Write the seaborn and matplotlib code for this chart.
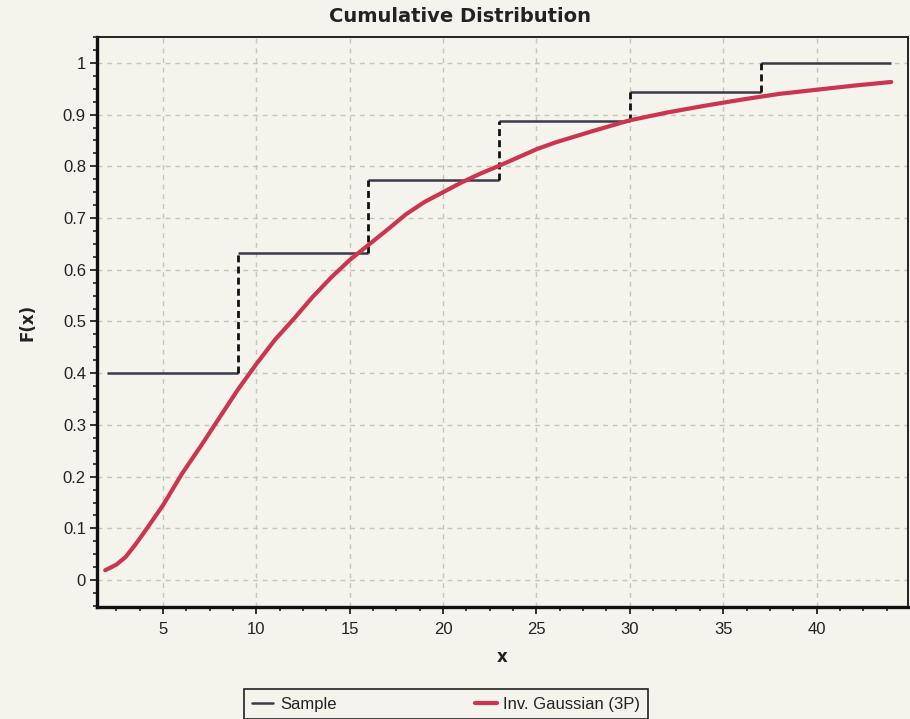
import numpy as np
import pandas as pd
import matplotlib
matplotlib.use("Agg")
import matplotlib.pyplot as plt
import seaborn as sns
from matplotlib.ticker import MultipleLocator
from matplotlib.lines import Line2D
from matplotlib import font_manager

# ---- data ----
step_x = [2, 9, 16, 23, 30, 37, 44]
step_f = [0.4, 0.633, 0.774, 0.887, 0.944, 1.0]

curve_x = [1.9, 2.5, 3, 3.5, 4, 5, 6, 7, 8, 9, 10, 11, 12, 13, 14, 15, 16, 17,
           18, 19, 20, 21, 22, 23, 24, 25, 26, 28, 30, 32, 34, 36, 38, 40, 42, 44]
curve_f = [0.019, 0.03, 0.045, 0.068, 0.093, 0.145, 0.205, 0.258, 0.313, 0.368,
           0.418, 0.465, 0.505, 0.547, 0.585, 0.619, 0.648, 0.677, 0.707, 0.731,
           0.750, 0.769, 0.786, 0.801, 0.817, 0.833, 0.846, 0.868, 0.889, 0.904,
           0.917, 0.929, 0.94, 0.948, 0.956, 0.963]

title = "Cumulative Distribution"
xlabel = "x"
ylabel = "F(x)"
legend_labels = ["Sample", "Inv. Gaussian (3P)"]
xticks = [5, 10, 15, 20, 25, 30, 35, 40]
yticks = [0, 0.1, 0.2, 0.3, 0.4, 0.5, 0.6, 0.7, 0.8, 0.9, 1]

# ---- style ----
sns.set_theme(style="white")
avail = {f.name for f in font_manager.fontManager.ttflist}
narrow = "Liberation Sans Narrow" if "Liberation Sans Narrow" in avail else "Liberation Sans"
plt.rcParams["font.family"] = [narrow, "DejaVu Sans"]

bg = "#f4f3ec"
fig = plt.figure(figsize=(9.1, 7.19), dpi=100, facecolor=bg)
ax = fig.add_axes([97 / 910, 1 - 607 / 719, (908 - 97) / 910, (607 - 37) / 719])
ax.set_facecolor(bg)

# grid
ax.set_xticks(xticks)
ax.set_yticks(yticks)
ax.set_yticklabels([("%g" % v) for v in yticks])
ax.xaxis.set_minor_locator(MultipleLocator(1.25))
ax.yaxis.set_minor_locator(MultipleLocator(0.025))
ax.grid(True, which="major", color="#c6c5b8", linestyle=(0, (3.5, 3.5)), linewidth=1.0)

# sample step function
df_curve = pd.DataFrame({"x": curve_x, "F": curve_f})
ax.hlines(step_f, step_x[:-1], step_x[1:], colors="#3b3a48", linewidth=1.8, zorder=3)
ax.vlines(step_x[1:-1], step_f[:-1], step_f[1:], colors="#111111",
          linewidth=2.0, linestyles=(0, (2.5, 1.5)), zorder=3)

# fitted curve
sns.lineplot(data=df_curve, x="x", y="F", ax=ax, color="#cc3550", linewidth=3.0,
             zorder=4, legend=False)

ax.set_xlim(1.46, 44.9)
ax.set_ylim(-0.052, 1.05)

for side in ["left", "bottom"]:
    ax.spines[side].set_linewidth(2.4)
    ax.spines[side].set_color("#111111")
for side in ["top", "right"]:
    ax.spines[side].set_linewidth(1.4)
    ax.spines[side].set_color("#222222")

ax.tick_params(axis="both", which="major", direction="out", length=5, width=1.3,
               color="#222222", labelsize=12, labelcolor="#222222", pad=3)
ax.tick_params(axis="both", which="minor", direction="out", length=3, width=1.2,
               color="#222222")
ax.tick_params(axis="x", which="major", pad=6)
ax.tick_params(axis="both", which="both", left=True, bottom=True)

fig.text(0.505, 1 - 17 / 719, title, ha="center", va="center", fontsize=14,
         fontweight="bold", color="#222222", family=["DejaVu Sans"])
ax.set_xlabel(xlabel, fontsize=12, fontweight="bold", color="#222222", labelpad=8,
              family=["DejaVu Sans"])
ax.set_ylabel(ylabel, fontsize=12, fontweight="bold", color="#222222", labelpad=19,
              family=["DejaVu Sans"])

handles = [Line2D([], [], color="#3b3a48", linewidth=1.8),
           Line2D([], [], color="#cc3550", linewidth=3.0)]
leg = fig.legend(handles, legend_labels, loc="upper center",
                 bbox_to_anchor=(446 / 910, 1 - 681 / 719), ncol=2,
                 frameon=True, fancybox=False, fontsize=12, handlelength=1.3,
                 handletextpad=0.4, columnspacing=8.3, borderpad=0.45,
                 edgecolor="#222222", facecolor=bg, framealpha=1)
leg.get_frame().set_linewidth(1.2)
for t in leg.get_texts():
    t.set_color("#222222")

fig.savefig("out.png", dpi=100, facecolor=bg)
